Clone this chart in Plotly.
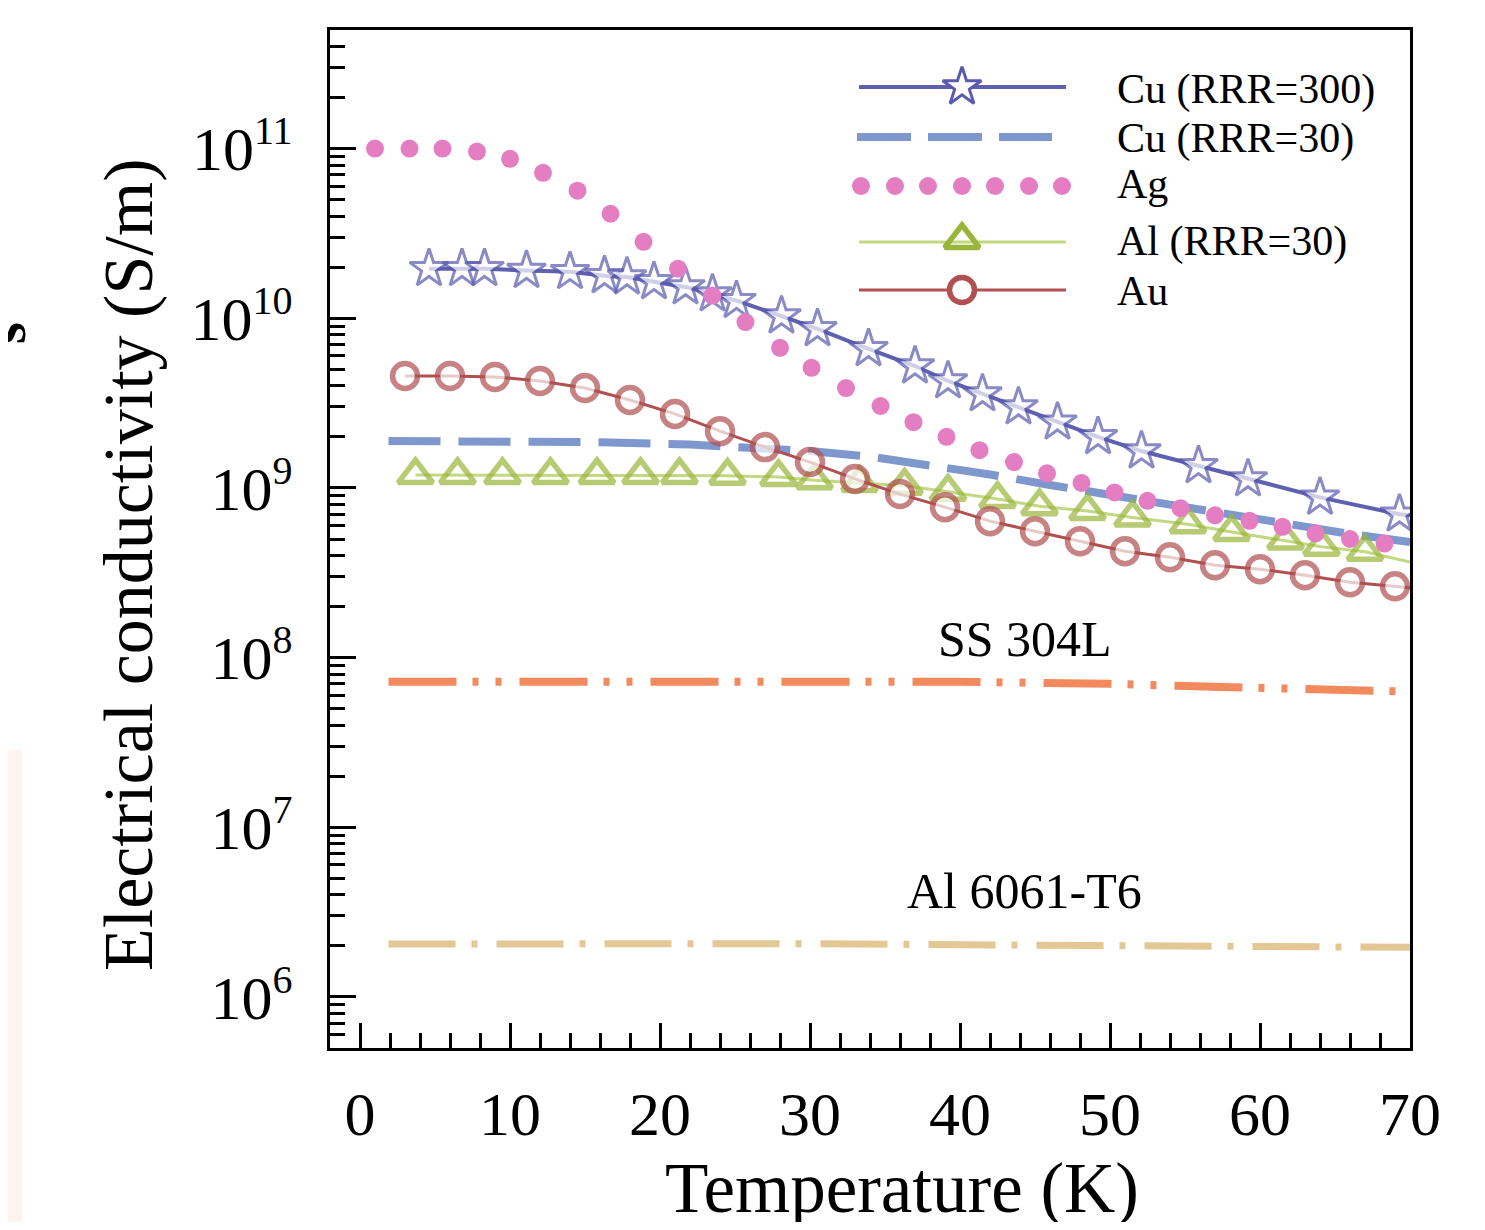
import math
import plotly.graph_objects as go

# ---------------- data ----------------
T_cu300 = [4.6, 6.8, 8.3, 11.1, 14.0, 16.3, 17.8, 19.6, 21.7, 23.5, 25.1, 28.1, 30.5,
           33.9, 37.0, 39.2, 41.5, 43.9, 46.5, 49.2, 52.1, 55.9, 59.2, 64.0, 69.3, 70.0]
S_cu300 = [1.96e10, 1.96e10, 1.96e10, 1.91e10, 1.88e10, 1.78e10, 1.75e10, 1.64e10, 1.53e10,
           1.39e10, 1.27e10, 1.03e10, 8.66e9, 6.6e9, 5.23e9, 4.27e9, 3.58e9, 3.0e9, 2.44e9,
           2.0e9, 1.65e9, 1.35e9, 1.13e9, 8.8e8, 7.0e8, 6.9e8]

T_cu30 = [1.9, 10, 16, 22, 26, 30, 34, 38, 42, 46, 50, 54, 58, 62, 66, 70]
S_cu30 = [1.89e9, 1.89e9, 1.86e9, 1.80e9, 1.74e9, 1.65e9, 1.53e9, 1.37e9, 1.20e9, 1.04e9,
          9.1e8, 8.0e8, 7.0e8, 6.05e8, 5.35e8, 4.8e8]

T_ag = [1.0, 3.3, 5.5, 7.8, 10.0, 12.2, 14.5, 16.7, 18.9, 21.2, 23.5, 25.7, 28.0, 30.1, 32.4,
        34.7, 36.9, 39.1, 41.3, 43.6, 45.8, 48.1, 50.3, 52.5, 54.7, 57.0, 59.3, 61.5, 63.7,
        66.0, 68.3]
S_ag = [1.0e11, 1.0e11, 1.0e11, 9.6e10, 8.7e10, 7.2e10, 5.65e10, 4.13e10, 2.82e10, 1.96e10,
        1.36e10, 9.5e9, 6.7e9, 5.1e9, 3.88e9, 3.04e9, 2.44e9, 2.0e9, 1.67e9, 1.42e9, 1.22e9,
        1.07e9, 9.4e8, 8.4e8, 7.6e8, 6.9e8, 6.4e8, 5.9e8, 5.4e8, 5.0e8, 4.7e8]

T_al30 = [3.7, 6.5, 9.5, 12.7, 15.8, 18.7, 21.3, 24.5, 27.9, 30.3, 33.3, 36.3, 39.2, 42.5,
          45.3, 48.5, 51.5, 55.2, 58.1, 61.7, 64.1, 67.0, 70.0]
S_al30 = [1.19e9, 1.19e9, 1.19e9, 1.19e9, 1.19e9, 1.19e9, 1.19e9, 1.18e9, 1.16e9, 1.11e9,
          1.07e9, 1.03e9, 9.5e8, 8.6e8, 7.8e8, 7.3e8, 6.7e8, 6.1e8, 5.5e8, 4.9e8, 4.5e8,
          4.2e8, 3.66e8]

T_au = [3, 6, 9, 12, 15, 18, 21, 24, 27, 30, 33, 36, 39, 42, 45, 48, 51, 54, 57, 60, 63, 66,
        69, 70]
S_au = [4.57e9, 4.57e9, 4.51e9, 4.27e9, 3.88e9, 3.30e9, 2.73e9, 2.16e9, 1.74e9, 1.42e9,
        1.13e9, 9.2e8, 7.7e8, 6.37e8, 5.56e8, 4.85e8, 4.24e8, 3.90e8, 3.50e8, 3.32e8, 3.06e8,
        2.78e8, 2.63e8, 2.58e8]

T_ss = [1.9, 10, 20, 30, 40, 45, 50, 55, 60, 65, 70]
S_ss = [7.2e7, 7.25e7, 7.25e7, 7.2e7, 7.2e7, 7.15e7, 7.0e7, 6.8e7, 6.65e7, 6.5e7, 6.3e7]

T_al6061 = [1.9, 10, 20, 30, 40, 50, 60, 70]
S_al6061 = [2.05e6, 2.06e6, 2.08e6, 2.06e6, 2.03e6, 2.02e6, 2.0e6, 1.96e6]

legend_labels = ["Cu (RRR=300)", "Cu (RRR=30)", "Ag", "Al (RRR=30)", "Au"]
y_tick_exps = [6, 7, 8, 9, 10, 11]
x_ticks = [0, 10, 20, 30, 40, 50, 60, 70]

# ---------------- styles ----------------
FONT = "Liberation Serif, Times New Roman, serif"
C_CU300, C_CU300_M = "#6060B0", "#5A5AB0"
C_CU30 = "#7E98CE"
C_AG = "#E57DC3"
C_AL30_L, C_AL30_M = "#C2D982", "#9AB63A"
C_AU = "#B05050"
C_SS = "#F28A5E"
C_AL6 = "#E3C794"
CLEAR = "rgba(0,0,0,0)"

DASH_CU30 = "52px,18px"
DASH_SS = "68px,16px,6px,17px,6px,18px"
DASH_AL6 = "67px,16px,6px,19px"

STAR_SIZE, TRI_SIZE, CIRC_SIZE, DOT_SIZE = 29, 30, 25, 18
TRI_W, CIRC_W, STAR_W = 5.5, 5.5, 3

fig = go.Figure()

def sizes(n, s, last_hidden):
    out = [s] * n
    if last_hidden:
        out[-1] = 0
    return out

fig.add_trace(go.Scatter(x=T_ss, y=S_ss, mode="lines", showlegend=False,
                         line=dict(color=C_SS, width=8, dash=DASH_SS)))
fig.add_trace(go.Scatter(x=T_al6061, y=S_al6061, mode="lines", showlegend=False,
                         line=dict(color=C_AL6, width=7, dash=DASH_AL6)))
fig.add_trace(go.Scatter(x=T_cu30, y=S_cu30, mode="lines", showlegend=False,
                         line=dict(color=C_CU30, width=8, dash=DASH_CU30)))
fig.add_trace(go.Scatter(x=T_al30, y=S_al30, mode="lines+markers", showlegend=False,
                         line=dict(color=C_AL30_L, width=3),
                         marker=dict(symbol="triangle-up",
                                     size=sizes(len(T_al30), TRI_SIZE, True),
                                     color=CLEAR, line=dict(width=TRI_W, color=C_AL30_M))))
fig.add_trace(go.Scatter(x=T_au, y=S_au, mode="lines+markers", showlegend=False,
                         line=dict(color=C_AU, width=3),
                         marker=dict(symbol="circle", size=sizes(len(T_au), CIRC_SIZE, True),
                                     color="white", line=dict(width=CIRC_W, color=C_AU))))
fig.add_trace(go.Scatter(x=T_cu300, y=S_cu300, mode="lines+markers", showlegend=False,
                         line=dict(color=C_CU300, width=4),
                         marker=dict(symbol="star", size=sizes(len(T_cu300), STAR_SIZE, True),
                                     color="white", line=dict(width=STAR_W, color=C_CU300_M))))
fig.add_trace(go.Scatter(x=T_ag, y=S_ag, mode="markers", showlegend=False,
                         marker=dict(symbol="circle", size=DOT_SIZE, color=C_AG,
                                     line=dict(width=0))))

# ---------------- manual legend (pixel overlay axes) ----------------
LX0, LX1, LXM = 859, 1066, 962
rows_y = [87, 137, 186, 242, 290]
fig.add_trace(go.Scatter(x=[LX0, LX1], y=[rows_y[0]] * 2, mode="lines", xaxis="x2", yaxis="y2",
                         showlegend=False, line=dict(color=C_CU300, width=4)))
fig.add_trace(go.Scatter(x=[LXM], y=[rows_y[0]], mode="markers", xaxis="x2", yaxis="y2",
                         showlegend=False,
                         marker=dict(symbol="star", size=STAR_SIZE, color="white",
                                     line=dict(width=STAR_W, color=C_CU300_M))))
fig.add_trace(go.Scatter(x=[857, 1052], y=[rows_y[1]] * 2, mode="lines", xaxis="x2", yaxis="y2",
                         showlegend=False, line=dict(color=C_CU30, width=8, dash="54px,17px")))
fig.add_trace(go.Scatter(x=[861, 895, 928, 962, 995, 1029, 1062], y=[rows_y[2]] * 7,
                         mode="markers", xaxis="x2", yaxis="y2", showlegend=False,
                         marker=dict(symbol="circle", size=DOT_SIZE, color=C_AG,
                                     line=dict(width=0))))
fig.add_trace(go.Scatter(x=[LX0, LX1], y=[rows_y[3]] * 2, mode="lines", xaxis="x2", yaxis="y2",
                         showlegend=False, line=dict(color=C_AL30_L, width=3)))
fig.add_trace(go.Scatter(x=[LXM], y=[rows_y[3] - 2], mode="markers", xaxis="x2", yaxis="y2",
                         showlegend=False,
                         marker=dict(symbol="triangle-up", size=TRI_SIZE, color=CLEAR,
                                     line=dict(width=TRI_W, color=C_AL30_M))))
fig.add_trace(go.Scatter(x=[LX0, LX1], y=[rows_y[4]] * 2, mode="lines", xaxis="x2", yaxis="y2",
                         showlegend=False, line=dict(color=C_AU, width=3)))
fig.add_trace(go.Scatter(x=[LXM], y=[rows_y[4]], mode="markers", xaxis="x2", yaxis="y2",
                         showlegend=False,
                         marker=dict(symbol="circle", size=CIRC_SIZE, color="white",
                                     line=dict(width=CIRC_W, color=C_AU))))

annotations = []
text_y = [89, 138, 184, 241, 291]
for lab, ty in zip(legend_labels, text_y):
    annotations.append(dict(x=1115, y=ty, xref="x2", yref="y2", text=lab, showarrow=False,
                            xanchor="left", yanchor="middle",
                            font=dict(family=FONT, size=42, color="black")))

annotations += [
    dict(x=0.6435, y=0.402, xref="paper", yref="paper", text="SS 304L", showarrow=False,
         xanchor="center", yanchor="middle", font=dict(family=FONT, size=50, color="black")),
    dict(x=0.6435, y=0.154, xref="paper", yref="paper", text="Al 6061-T6", showarrow=False,
         xanchor="center", yanchor="middle", font=dict(family=FONT, size=50, color="black")),
    dict(x=0.5296, y=-0.138, xref="paper", yref="paper", text="Temperature (K)",
         showarrow=False, xanchor="center", yanchor="middle",
         font=dict(family=FONT, size=71, color="black")),
    dict(x=-0.1861, y=0.4745, xref="paper", yref="paper", text="Electrical conductivity (S/m)",
         showarrow=False, xanchor="center", yanchor="middle", textangle=-90,
         font=dict(family=FONT, size=70, color="black")),
    # cropped fragment at the left edge of the reference picture
    dict(x=-0.2995, y=0.702, xref="paper", yref="paper", text="<b>s</b>", showarrow=False,
         xanchor="center", yanchor="middle", textangle=-90,
         font=dict(family=FONT, size=56, color="black")),
]

minor_y = [m * 10 ** e for e in range(5, 12) for m in range(2, 10)
           if 5e5 <= m * 10 ** e <= 5e11]

fig.update_layout(
    width=1469, height=1214,
    margin=dict(l=322, r=67, t=22, b=174),
    paper_bgcolor="white", plot_bgcolor="white",
    showlegend=False,
    annotations=annotations,
    shapes=[dict(type="rect", xref="paper", yref="paper", x0=-0.2981, x1=-0.2852,
                 y0=-0.179, y1=0.2927, fillcolor="#FDF3EF", line=dict(width=0), layer="below")],
    xaxis=dict(range=[-2, 70], tickmode="array", tickvals=x_ticks,
               ticktext=[str(v) for v in x_ticks],
               showline=True, linewidth=3, linecolor="black", mirror=True,
               ticks="inside", ticklen=25, tickwidth=3, tickcolor="black",
               minor=dict(ticks="inside", ticklen=15, tickwidth=2.5, tickcolor="black",
                          dtick=2, tick0=0),
               showgrid=False, zeroline=False, ticklabelstandoff=10, automargin=False,
               tickfont=dict(family=FONT, size=62, color="black")),
    yaxis=dict(type="log", range=[math.log10(5e5), math.log10(5e11)],
               tickmode="array", tickvals=[10 ** e for e in y_tick_exps],
               ticktext=["10<sup><span style='font-size:40px'>%d</span></sup>" % e
                         for e in y_tick_exps],
               showline=True, linewidth=3, linecolor="black", mirror=True,
               ticks="inside", ticklen=26, tickwidth=3, tickcolor="black",
               minor=dict(ticks="inside", ticklen=15, tickwidth=2.5, tickcolor="black",
                          tickmode="array", tickvals=minor_y),
               showgrid=False, zeroline=False, ticklabelstandoff=22, automargin=False,
               tickfont=dict(family=FONT, size=62, color="black")),
    xaxis2=dict(overlaying="x", range=[330, 1410], visible=False, fixedrange=True),
    yaxis2=dict(overlaying="y", range=[1048, 30], visible=False, fixedrange=True),
)

fig.write_html("out.html")
